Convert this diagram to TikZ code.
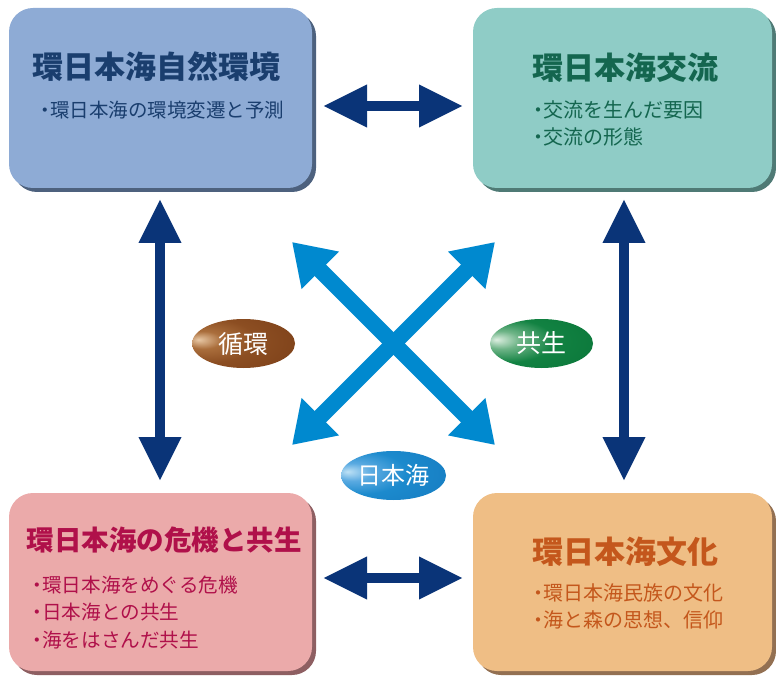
\documentclass[tikz,border=0pt]{standalone}
\usepackage{fontspec}
\setmainfont{Noto Sans CJK JP}
\usetikzlibrary{arrows.meta,shadows,shapes.geometric}
\definecolor{tlfill}{HTML}{8EABD5}
\definecolor{tltext}{HTML}{1A3E6E}
\definecolor{tlshadow}{HTML}{4D617E}
\definecolor{trfill}{HTML}{8FCCC6}
\definecolor{trtext}{HTML}{14664F}
\definecolor{trshadow}{HTML}{4F7A75}
\definecolor{blfill}{HTML}{EBAAAA}
\definecolor{bltext}{HTML}{B0104A}
\definecolor{blshadow}{HTML}{8E5F62}
\definecolor{brfill}{HTML}{EFBE85}
\definecolor{brtext}{HTML}{C4571C}
\definecolor{brshadow}{HTML}{937052}
\definecolor{navy}{HTML}{0A3478}
\definecolor{xblue}{HTML}{0089CF}
\pgfdeclareradialshading{brownglow}{\pgfpoint{-22bp}{4bp}}{%
  color(0bp)=(rgb,255:red,232;green,200;blue,165);
  color(9bp)=(rgb,255:red,170;green,110;blue,60);
  color(22bp)=(rgb,255:red,140;green,78;blue,34);
  color(50bp)=(rgb,255:red,120;green,60;blue,22);
  color(62bp)=(rgb,255:red,90;green,42;blue,12);
  color(80bp)=(rgb,255:red,80;green,36;blue,10)}
\pgfdeclareradialshading{greenglow}{\pgfpoint{-22bp}{4bp}}{%
  color(0bp)=(rgb,255:red,220;green,238;blue,224);
  color(9bp)=(rgb,255:red,110;green,180;blue,135);
  color(22bp)=(rgb,255:red,18;green,130;blue,66);
  color(50bp)=(rgb,255:red,8;green,115;blue,55);
  color(62bp)=(rgb,255:red,5;green,92;blue,42);
  color(80bp)=(rgb,255:red,4;green,80;blue,36)}
\pgfdeclareradialshading{blueglow}{\pgfpoint{-22bp}{4bp}}{%
  color(0bp)=(rgb,255:red,190;green,225;blue,245);
  color(9bp)=(rgb,255:red,90;green,170;blue,225);
  color(22bp)=(rgb,255:red,28;green,138;blue,205);
  color(50bp)=(rgb,255:red,20;green,120;blue,190);
  color(62bp)=(rgb,255:red,12;green,95;blue,160);
  color(80bp)=(rgb,255:red,10;green,85;blue,145)}
\newcommand{\bulmark}{・\kern-5pt}
\begin{document}
\begin{tikzpicture}[x=1pt,y=-1pt,
  box/.style={draw=none, rectangle, rounded corners=24pt, inner sep=0pt},
  ttl/.style={font=\bfseries\fontsize{31}{36}\selectfont, inner sep=0pt},
  sub/.style={font=\fontsize{19.5}{27}\selectfont, inner sep=0pt, align=left, anchor=west},
  navarrow/.style={draw=navy, line width=10pt, {Triangle[length=44pt,width=40pt]}-{Triangle[length=44pt,width=40pt]}},
  xarrow/.style={draw=xblue, line width=16pt, {Triangle[length=40pt,width=50pt]}-{Triangle[length=40pt,width=50pt]}},
  oval/.style={ellipse, minimum width=103pt, minimum height=49pt, inner sep=0pt, text=white, font=\fontsize{25}{30}\selectfont}
]
\useasboundingbox (0,0) rectangle (776,676);
% boxes
\node[box, fill=tlfill, minimum width=303pt, minimum height=180pt,
  drop shadow={shadow xshift=4pt, shadow yshift=-4pt, fill=tlshadow, opacity=1}] (tl) at (160.5,98) {};
\node[box, fill=trfill, minimum width=299pt, minimum height=180pt,
  drop shadow={shadow xshift=4pt, shadow yshift=-4pt, fill=trshadow, opacity=1}] (tr) at (622.5,98) {};
\node[box, fill=blfill, minimum width=303pt, minimum height=178pt,
  drop shadow={shadow xshift=4pt, shadow yshift=-4pt, fill=blshadow, opacity=1}] (bl) at (160.5,582) {};
\node[box, fill=brfill, minimum width=299pt, minimum height=178pt,
  drop shadow={shadow xshift=4pt, shadow yshift=-4pt, fill=brshadow, opacity=1}] (br) at (622.5,582) {};
% texts
\node[ttl, text=tltext] (tlt) at (156,67) {環日本海自然環境};
\node[sub, text=tltext] (tls) at (35.5,110) {\bulmark 環日本海の環境変遷と予測};
\node[ttl, text=trtext] (trt) at (625.5,68) {環日本海交流};
\node[sub, text=trtext, font=\fontsize{20}{27}\selectfont] (trs) at (528,123.5) {\bulmark 交流を生んだ要因\\\bulmark 交流の形態};
\node[ttl, text=bltext, font=\bfseries\fontsize{27.5}{32}\selectfont] (blt) at (164,540) {環日本海の危機と共生};
\node[sub, text=bltext, font=\fontsize{19.6}{27.5}\selectfont] (bls) at (27.5,612.5) {\bulmark 環日本海をめぐる危機\\\bulmark 日本海との共生\\\bulmark 海をはさんだ共生};
\node[ttl, text=brtext] (brt) at (625.5,552) {環日本海文化};
\node[sub, text=brtext, font=\fontsize{20}{27}\selectfont] (brs) at (528,606.5) {\bulmark 環日本海民族の文化\\\bulmark 海と森の思想、信仰};
% navy arrow end points
\coordinate (nt1) at (323,106);
\coordinate (nt2) at (463,106);
\coordinate (nb1) at (323,578);
\coordinate (nb2) at (463,578);
\coordinate (nl1) at (160,199);
\coordinate (nl2) at (160,481);
\coordinate (nr1) at (624,199);
\coordinate (nr2) at (624,481);
\draw[navarrow] (nt1) -- (nt2);
\draw[navarrow] (nb1) -- (nb2);
\draw[navarrow] (nl1) -- (nl2);
\draw[navarrow] (nr1) -- (nr2);
% blue X
\coordinate (xa) at (292,242);
\coordinate (xb) at (495,242);
\coordinate (xc) at (292,445);
\coordinate (xd) at (495,445);
\draw[xarrow] (xa) -- (xd);
\draw[xarrow] (xb) -- (xc);
% ovals
\node[oval, shading=brownglow] (jun) at (243.5,343.5) {循環};
\node[oval, shading=greenglow] (kyo) at (541.5,343.5) {共生};
\node[oval, shading=blueglow, minimum width=105pt, font=\fontsize{24}{28}\selectfont] (nih) at (393.5,475.5) {日本海};
\end{tikzpicture}
\end{document}
